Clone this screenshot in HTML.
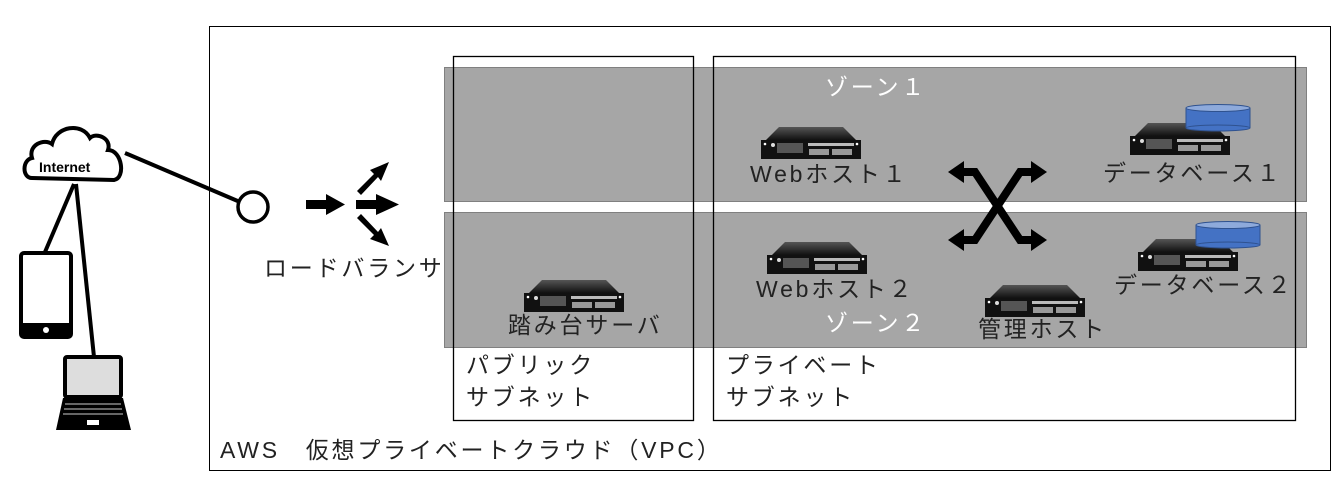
<!DOCTYPE html>
<html><head><meta charset="utf-8"><style>
html,body{margin:0;padding:0;background:#fff;width:1343px;height:480px;overflow:hidden}
svg text{font-family:"Liberation Sans","Noto Sans CJK JP",sans-serif;font-size:23px;letter-spacing:2.8px;fill:#222}
</style></head><body>
<svg width="1343" height="480" viewBox="0 0 1343 480" xmlns="http://www.w3.org/2000/svg">
<defs>
<linearGradient id="tg" x1="0" y1="0" x2="0" y2="1"><stop offset="0" stop-color="#555"/><stop offset="1" stop-color="#111"/></linearGradient>
<g id="srv">
<polygon points="18,0 82,0 95,13 5,13" fill="url(#tg)"/>
<rect x="0" y="13" width="100" height="19" fill="#111"/>
<circle cx="4" cy="17" r="1.3" fill="#fff"/><circle cx="96" cy="17" r="1.3" fill="#fff"/>
<circle cx="12" cy="18" r="2" fill="#ddd"/>
<rect x="16" y="16" width="26" height="10" fill="#555"/>
<rect x="47" y="16" width="46" height="3" fill="#bbb"/>
<rect x="48" y="22" width="20" height="6" fill="#999"/><rect x="71" y="22" width="20" height="6" fill="#999"/>
</g>
<g id="cyl">
<rect x="0" y="4" width="64" height="20" fill="#4472c4"/>
<ellipse cx="32" cy="24" rx="32" ry="3" fill="#4472c4" stroke="#2f528f"/>
<ellipse cx="32" cy="4" rx="32" ry="3.5" fill="#8eaadb" stroke="#2f528f"/>
<line x1="0" y1="4" x2="0" y2="24" stroke="#2f528f"/><line x1="64" y1="4" x2="64" y2="24" stroke="#2f528f"/>
</g>
</defs>
<rect x="209.5" y="26.5" width="1121" height="444" fill="none" stroke="#000" stroke-width="1"/>
<rect x="444.5" y="67.5" width="862" height="134" fill="#a6a6a6" stroke="#808080"/>
<rect x="444.5" y="212.5" width="862" height="135" fill="#a6a6a6" stroke="#808080"/>
<rect x="453.5" y="56.5" width="240" height="364" fill="none" stroke="#000" stroke-width="1.3"/>
<rect x="713.5" y="56.5" width="582" height="364" fill="none" stroke="#000" stroke-width="1.3"/>
<text x="825" y="95" style="fill:#fff">ゾーン１</text>
<text x="825" y="331" style="fill:#fff">ゾーン２</text>
<use href="#srv" x="761" y="127"/>
<text x="750" y="182">Webホスト１</text>
<use href="#srv" x="1130" y="123"/><use href="#cyl" x="1186" y="104"/>
<text x="1103" y="181">データベース１</text>
<use href="#srv" x="767" y="242"/>
<text x="756" y="297">Webホスト２</text>
<use href="#srv" x="1138" y="239"/><use href="#cyl" x="1196" y="221"/>
<text x="1114" y="293">データベース２</text>
<use href="#srv" x="985" y="285"/>
<text x="978" y="337">管理ホスト</text>
<use href="#srv" x="524" y="280"/>
<text x="508" y="333">踏み台サーバ</text>
<g stroke="#000" stroke-width="8" fill="none">
<polyline points="960,172 975,172 1020,240 1035,240"/>
<polyline points="960,240 975,240 1020,172 1035,172"/>
</g>
<g fill="#000">
<polygon points="948,172 964,161 964,183"/><polygon points="1047,172 1031,161 1031,183"/>
<polygon points="948,240 964,229 964,251"/><polygon points="1047,240 1031,229 1031,251"/>
</g>
<text x="466" y="373">パブリック</text>
<text x="466" y="405">サブネット</text>
<text x="726" y="373">プライベート</text>
<text x="726" y="405">サブネット</text>
<text x="220" y="458">AWS　仮想プライベートクラウド（VPC）</text>
<line x1="125" y1="153" x2="240" y2="202" stroke="#000" stroke-width="4"/>
<circle cx="253" cy="207" r="15" fill="#fff" stroke="#000" stroke-width="3.5"/>
<g fill="#000">
<rect x="306" y="200" width="22" height="9"/><polygon points="326,194 345,204.5 326,215"/>
<rect x="356" y="200" width="22" height="9"/><polygon points="376,194 399,204.5 376,215"/>
<polygon points="357,191 374,174 370,170 389,162 381,181 378,177 361,195"/>
<polygon points="357,218 374,235 370,239 389,246 381,228 378,232 361,214"/>
</g>
<text x="264" y="276">ロードバランサ</text>
<path d="M32,178 C22,178 22,160 32,158 C28,145 44,138 52,144 C56,126 82,122 90,138 C96,132 112,138 108,150 C122,150 126,178 114,180 Z" fill="#fff" stroke="#000" stroke-width="4"/>
<text x="39" y="172" style="font-size:14px;font-weight:bold;fill:#000;letter-spacing:0">Internet</text>
<line x1="74" y1="184" x2="45" y2="252" stroke="#000" stroke-width="4"/>
<line x1="76" y1="184" x2="94" y2="357" stroke="#000" stroke-width="4"/>
<rect x="21" y="253" width="50" height="84" rx="3" fill="#fff" stroke="#000" stroke-width="4"/>
<rect x="21" y="323" width="50" height="14" fill="#000"/>
<circle cx="46" cy="330" r="3" fill="#fff"/>
<rect x="65" y="357" width="56" height="40" rx="2" fill="#ddd" stroke="#000" stroke-width="4"/>
<polygon points="63,398 123,398 131,430 56,430" fill="#000"/>
<g stroke="#888" stroke-width="1.5"><line x1="65" y1="404" x2="121" y2="404"/><line x1="64" y1="409" x2="122" y2="409"/><line x1="63" y1="414" x2="123" y2="414"/></g>
<rect x="87" y="420" width="12" height="5" fill="#fff"/>
</svg>
</body></html>
